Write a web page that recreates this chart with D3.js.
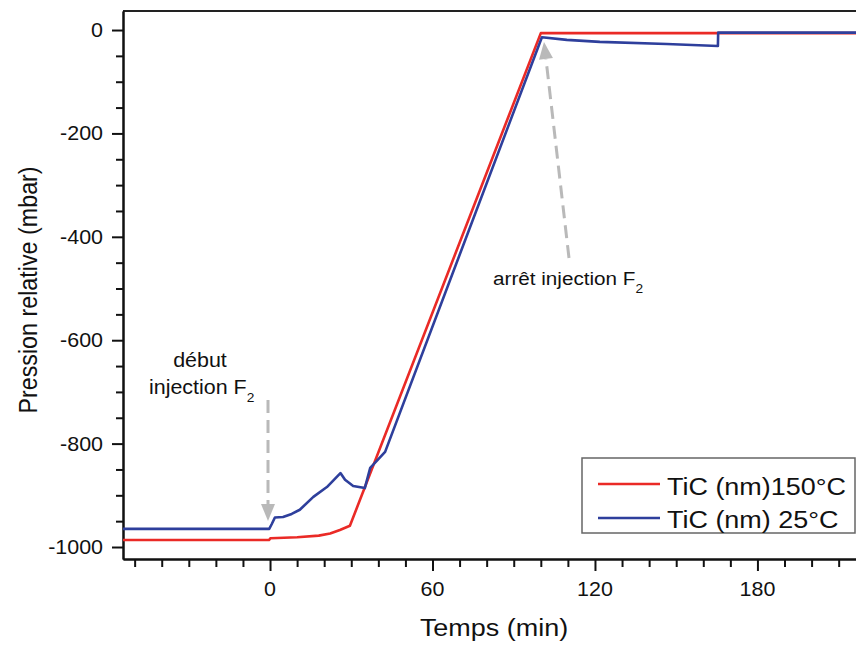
<!DOCTYPE html>
<html>
<head>
<meta charset="utf-8">
<script src="https://cdn.jsdelivr.net/npm/d3@7/dist/d3.min.js"></script>
<style>
  html, body { margin: 0; padding: 0; background: #fff; }
  svg { display: block; }
  text { font-family: "Liberation Sans", Arial, sans-serif; fill: #111; }
</style>
</head>
<body>
<svg id="chart" width="856" height="646"></svg>
<script>
// ---- data ----
const redLabel = "TiC (nm)150°C";
const blueLabel = "TiC (nm) 25°C";
const redT = [-54.3, -0.4, 0.2, 10, 18, 22.2, 25.8, 29.5, 100, 166, 216.4];
const redV = [-986.5, -986.5, -983, -981, -978, -974, -967, -959, -6, -6, -6];
const blueT = [-54.3, -0.3, 0.6, 1.8, 4.8, 8, 11, 16, 21, 26, 27.7, 30.7, 35, 37, 42.5, 100.4, 109.6, 121.8, 146.5, 165.4, 165.5, 216.4];
const blueV = [-965, -965, -956, -943, -942, -936, -928, -903, -884, -857, -870, -882, -886, -847, -816, -14, -19, -23, -27, -31, -5, -5];
const xMajorTicks = [0, 60, 120, 180];
const xMinorTicks = [-50, -40, -30, -20, -10, 10, 20, 30, 40, 50, 70, 80, 90, 100, 110, 130, 140, 150, 160, 170, 190, 200, 210];
const yMajorTicks = [0, -200, -400, -600, -800, -1000];
const yMinorTicks = [-50, -100, -150, -250, -300, -350, -450, -500, -550, -650, -700, -750, -850, -900, -950];
const xTitle = "Temps (min)";
const yTitle = "Pression relative (mbar)";

// ---- layout ----
const svg = d3.select("#chart");
const L = 123, T = 11, R = 856, B = 559;
const SX = 1.1; // horizontal stretch of the original lettering
const x = d3.scaleLinear().domain([-54.3, 216.4]).range([L, R]);
const y = d3.scaleLinear().domain([-1023.2, 36.8]).range([B, T]);

function stext(parent, px, py, str, size, anchor) {
  return parent.append("text")
    .attr("transform", `translate(${px},${py}) scale(${SX},1)`)
    .attr("text-anchor", anchor || "start")
    .style("font-size", size + "px")
    .text(str);
}

// clip
svg.append("clipPath").attr("id", "clip")
  .append("rect").attr("x", L).attr("y", T).attr("width", R - L).attr("height", B - T);

// top frame line
svg.append("line").attr("x1", L).attr("x2", R).attr("y1", T).attr("y2", T)
  .attr("stroke", "#222").attr("stroke-width", 2);

// axes
const gx = svg.append("g").attr("transform", `translate(0,${B})`)
  .call(d3.axisBottom(x).tickValues(xMajorTicks).tickSize(12).tickSizeOuter(0).tickFormat(""));
const gxm = svg.append("g").attr("transform", `translate(0,${B})`)
  .call(d3.axisBottom(x).tickValues(xMinorTicks).tickSize(8).tickSizeOuter(0).tickFormat(""));
const gy = svg.append("g").attr("transform", `translate(${L},0)`)
  .call(d3.axisLeft(y).tickValues(yMajorTicks).tickSize(11).tickSizeOuter(0).tickFormat(""));
const gym = svg.append("g").attr("transform", `translate(${L},0)`)
  .call(d3.axisLeft(y).tickValues(yMinorTicks).tickSize(7).tickSizeOuter(0).tickFormat(""));
[gx, gxm, gy, gym].forEach(g => {
  g.selectAll("path.domain").attr("stroke", "#111").attr("stroke-width", 2);
  g.selectAll(".tick line").attr("stroke", "#111").attr("stroke-width", 2);
});

// tick labels (plain hyphen as in the original)
xMajorTicks.forEach(v => stext(svg, x(v), 596, String(v), 19.5, "middle"));
yMajorTicks.forEach(v => stext(svg, 103, y(v) + 7, String(v), 19.5, "end"));

// axis titles
stext(svg, 494, 636, xTitle, 24.5, "middle");
svg.append("text")
  .attr("transform", `translate(37,290) scale(${SX},1) rotate(-90)`)
  .attr("text-anchor", "middle")
  .style("font-size", "23.3px")
  .text(yTitle);

// lines
const line = d3.line().x(d => x(d[0])).y(d => y(d[1]));
const plot = svg.append("g").attr("clip-path", "url(#clip)");
plot.append("path").datum(redT.map((t, i) => [t, redV[i]]))
  .attr("d", line).attr("fill", "none").attr("stroke", "#ea2a26").attr("stroke-width", 2.6)
  .attr("stroke-linejoin", "round");
plot.append("path").datum(blueT.map((t, i) => [t, blueV[i]]))
  .attr("d", line).attr("fill", "none").attr("stroke", "#2e3f9c").attr("stroke-width", 2.6)
  .attr("stroke-linejoin", "round");

// annotations
const gray = "#b9b9b9";
function arrow(x1, y1, x2, y2) {
  const ang = Math.atan2(y2 - y1, x2 - x1);
  const hl = 17, hw = 7;
  const bx = x2 - hl * Math.cos(ang), by = y2 - hl * Math.sin(ang);
  svg.append("line").attr("x1", x1).attr("y1", y1).attr("x2", bx).attr("y2", by)
    .attr("stroke", gray).attr("stroke-width", 3).attr("stroke-dasharray", "13,7");
  const px = -Math.sin(ang), py = Math.cos(ang);
  svg.append("path")
    .attr("d", `M${x2},${y2} L${bx + hw * px},${by + hw * py} L${bx - hw * px},${by - hw * py} Z`)
    .attr("fill", gray);
}
arrow(268, 400, 268, 521);
arrow(569, 258, 544, 42);

stext(svg, 200, 367, "début", 19.5, "middle");
const t1 = stext(svg, 149, 394, "injection F", 19.5, "start");
t1.append("tspan").attr("dy", 8).style("font-size", "12.5px").text("2");
const t2 = stext(svg, 493, 285, "arrêt injection F", 18.8, "start");
t2.append("tspan").attr("dy", 8).style("font-size", "12.5px").text("2");

// legend
const lg = svg.append("g");
lg.append("rect").attr("x", 582).attr("y", 458).attr("width", 273).attr("height", 75)
  .attr("fill", "#fff").attr("stroke", "#666").attr("stroke-width", 1.5);
lg.append("line").attr("x1", 598).attr("x2", 660).attr("y1", 484).attr("y2", 484)
  .attr("stroke", "#ea2a26").attr("stroke-width", 2.6);
lg.append("line").attr("x1", 598).attr("x2", 660).attr("y1", 518).attr("y2", 518)
  .attr("stroke", "#2e3f9c").attr("stroke-width", 2.6);
stext(lg, 667, 495, redLabel, 24.5, "start");
stext(lg, 667, 528, blueLabel, 24.5, "start");
</script>
</body>
</html>
